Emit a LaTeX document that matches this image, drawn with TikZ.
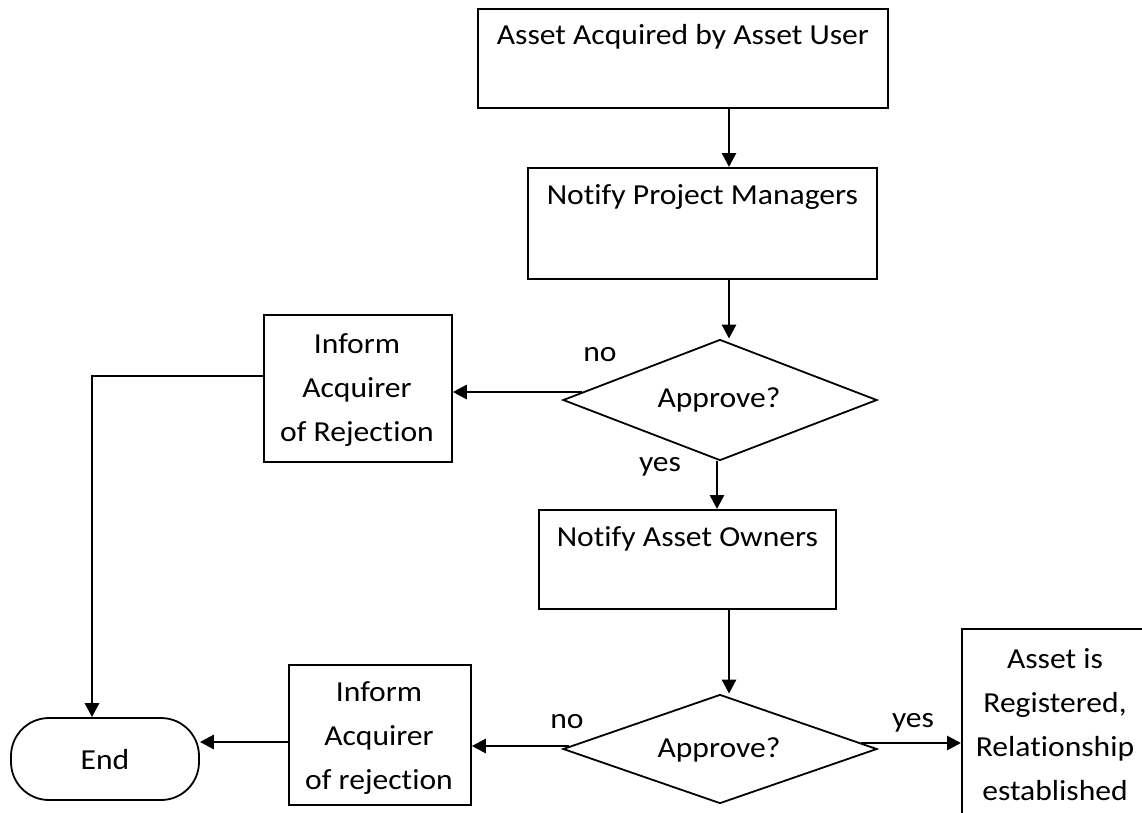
\documentclass[tikz,border=0pt]{standalone}
\usepackage{fontspec}
\setmainfont{Carlito}[FakeStretch=1.09,Ligatures=NoCommon]
\usetikzlibrary{arrows.meta,shapes.geometric,calc}
\begin{document}
\begin{tikzpicture}[x=1pt,y=-1pt,
  box/.style={draw, line width=1.8pt, rectangle, inner sep=0pt, anchor=north west},
  txt/.style={font=\fontsize{29}{44}\selectfont, align=center, inner sep=0pt},
  conn/.style={line width=2.8pt, -{Triangle[length=14pt,width=14pt]}},
  dia/.style={draw, diamond, line width=1.8pt, inner sep=0pt}
]
\useasboundingbox (0,0) rectangle (1142,812);
\clip (0,0) rectangle (1142,812);
\fill[white] (0,0) rectangle (1142,812);

% boxes
\node[box, minimum width=410pt, minimum height=99pt] (b1) at (477,8) {};
\node[txt] (t1) at ($(b1.north)+(0,29)$) {Asset Acquired by Asset User};

\node[box, minimum width=349pt, minimum height=111pt] (b2) at (527,167) {};
\node[txt] (t2) at ($(b2.north)+(0,30)$) {Notify Project Managers};

\node[dia, minimum width=314pt, minimum height=121pt] (d1) at (720,400) {};
\node[txt] (td1) at (719,400) {Approve?};

\node[box, minimum width=188pt, minimum height=147pt] (i1) at (263,314) {};
\node[txt] (ti1) at (357,390) {Inform\\Acquirer\\of Rejection};

\node[box, minimum width=297pt, minimum height=99pt] (b3) at (538,509) {};
\node[txt] (t3) at ($(b3.north)+(0,30)$) {Notify Asset Owners};

\node[dia, minimum width=314pt, minimum height=109pt] (d2) at (720,749) {};
\node[txt] (td2) at (719,750) {Approve?};

\node[box, minimum width=182pt, minimum height=140pt] (i2) at (288,664) {};
\node[txt] (ti2) at (379,738) {Inform\\Acquirer\\of rejection};

\node[draw, line width=1.8pt, rounded corners=38pt, minimum width=188pt, minimum height=82pt, inner sep=0pt] (e) at (105,759) {};
\node[txt] (te) at (105,760) {End};

\node[box, minimum width=200pt, minimum height=240pt] (r) at (961,628) {};
\node[txt] (tr) at (1055,725) {Asset is\\Registered,\\Relationship\\established};

% labels
\node[txt] (no1) at (600,355) {no};
\node[txt] (yes1) at (660,467) {yes};
\node[txt] (no2) at (567,722) {no};
\node[txt] (yes2) at (913,723) {yes};

% connectors
\coordinate (c1) at (729,0);
\coordinate (c2) at (717,0);
\draw[conn] (b1.south -| c1) -- (b2.north -| c1);
\draw[conn] (b2.south -| c1) -- (d1.north -| c1);
\draw[conn] ([shift={(20,-8)}]d1.west) coordinate (s1) -- (s1 -| i1.east);
\coordinate (k1) at (92,376);
\draw[conn] (i1.west |- k1) -- (k1) -- (k1 |- e.north);
\draw[conn] (d1.south -| c2) -- (b3.north -| c2);
\draw[conn] (b3.south -| c1) -- (d2.north -| c1);
\draw[conn] ([shift={(7,-3)}]d2.west) coordinate (s2) -- (s2 -| i2.east);
\coordinate (k2) at (0,742);
\draw[conn] (i2.west |- k2) -- (e.east |- k2);
\draw[conn] ([shift={(-17,-6)}]d2.east) coordinate (s3) -- (s3 -| r.west);
\end{tikzpicture}
\end{document}
